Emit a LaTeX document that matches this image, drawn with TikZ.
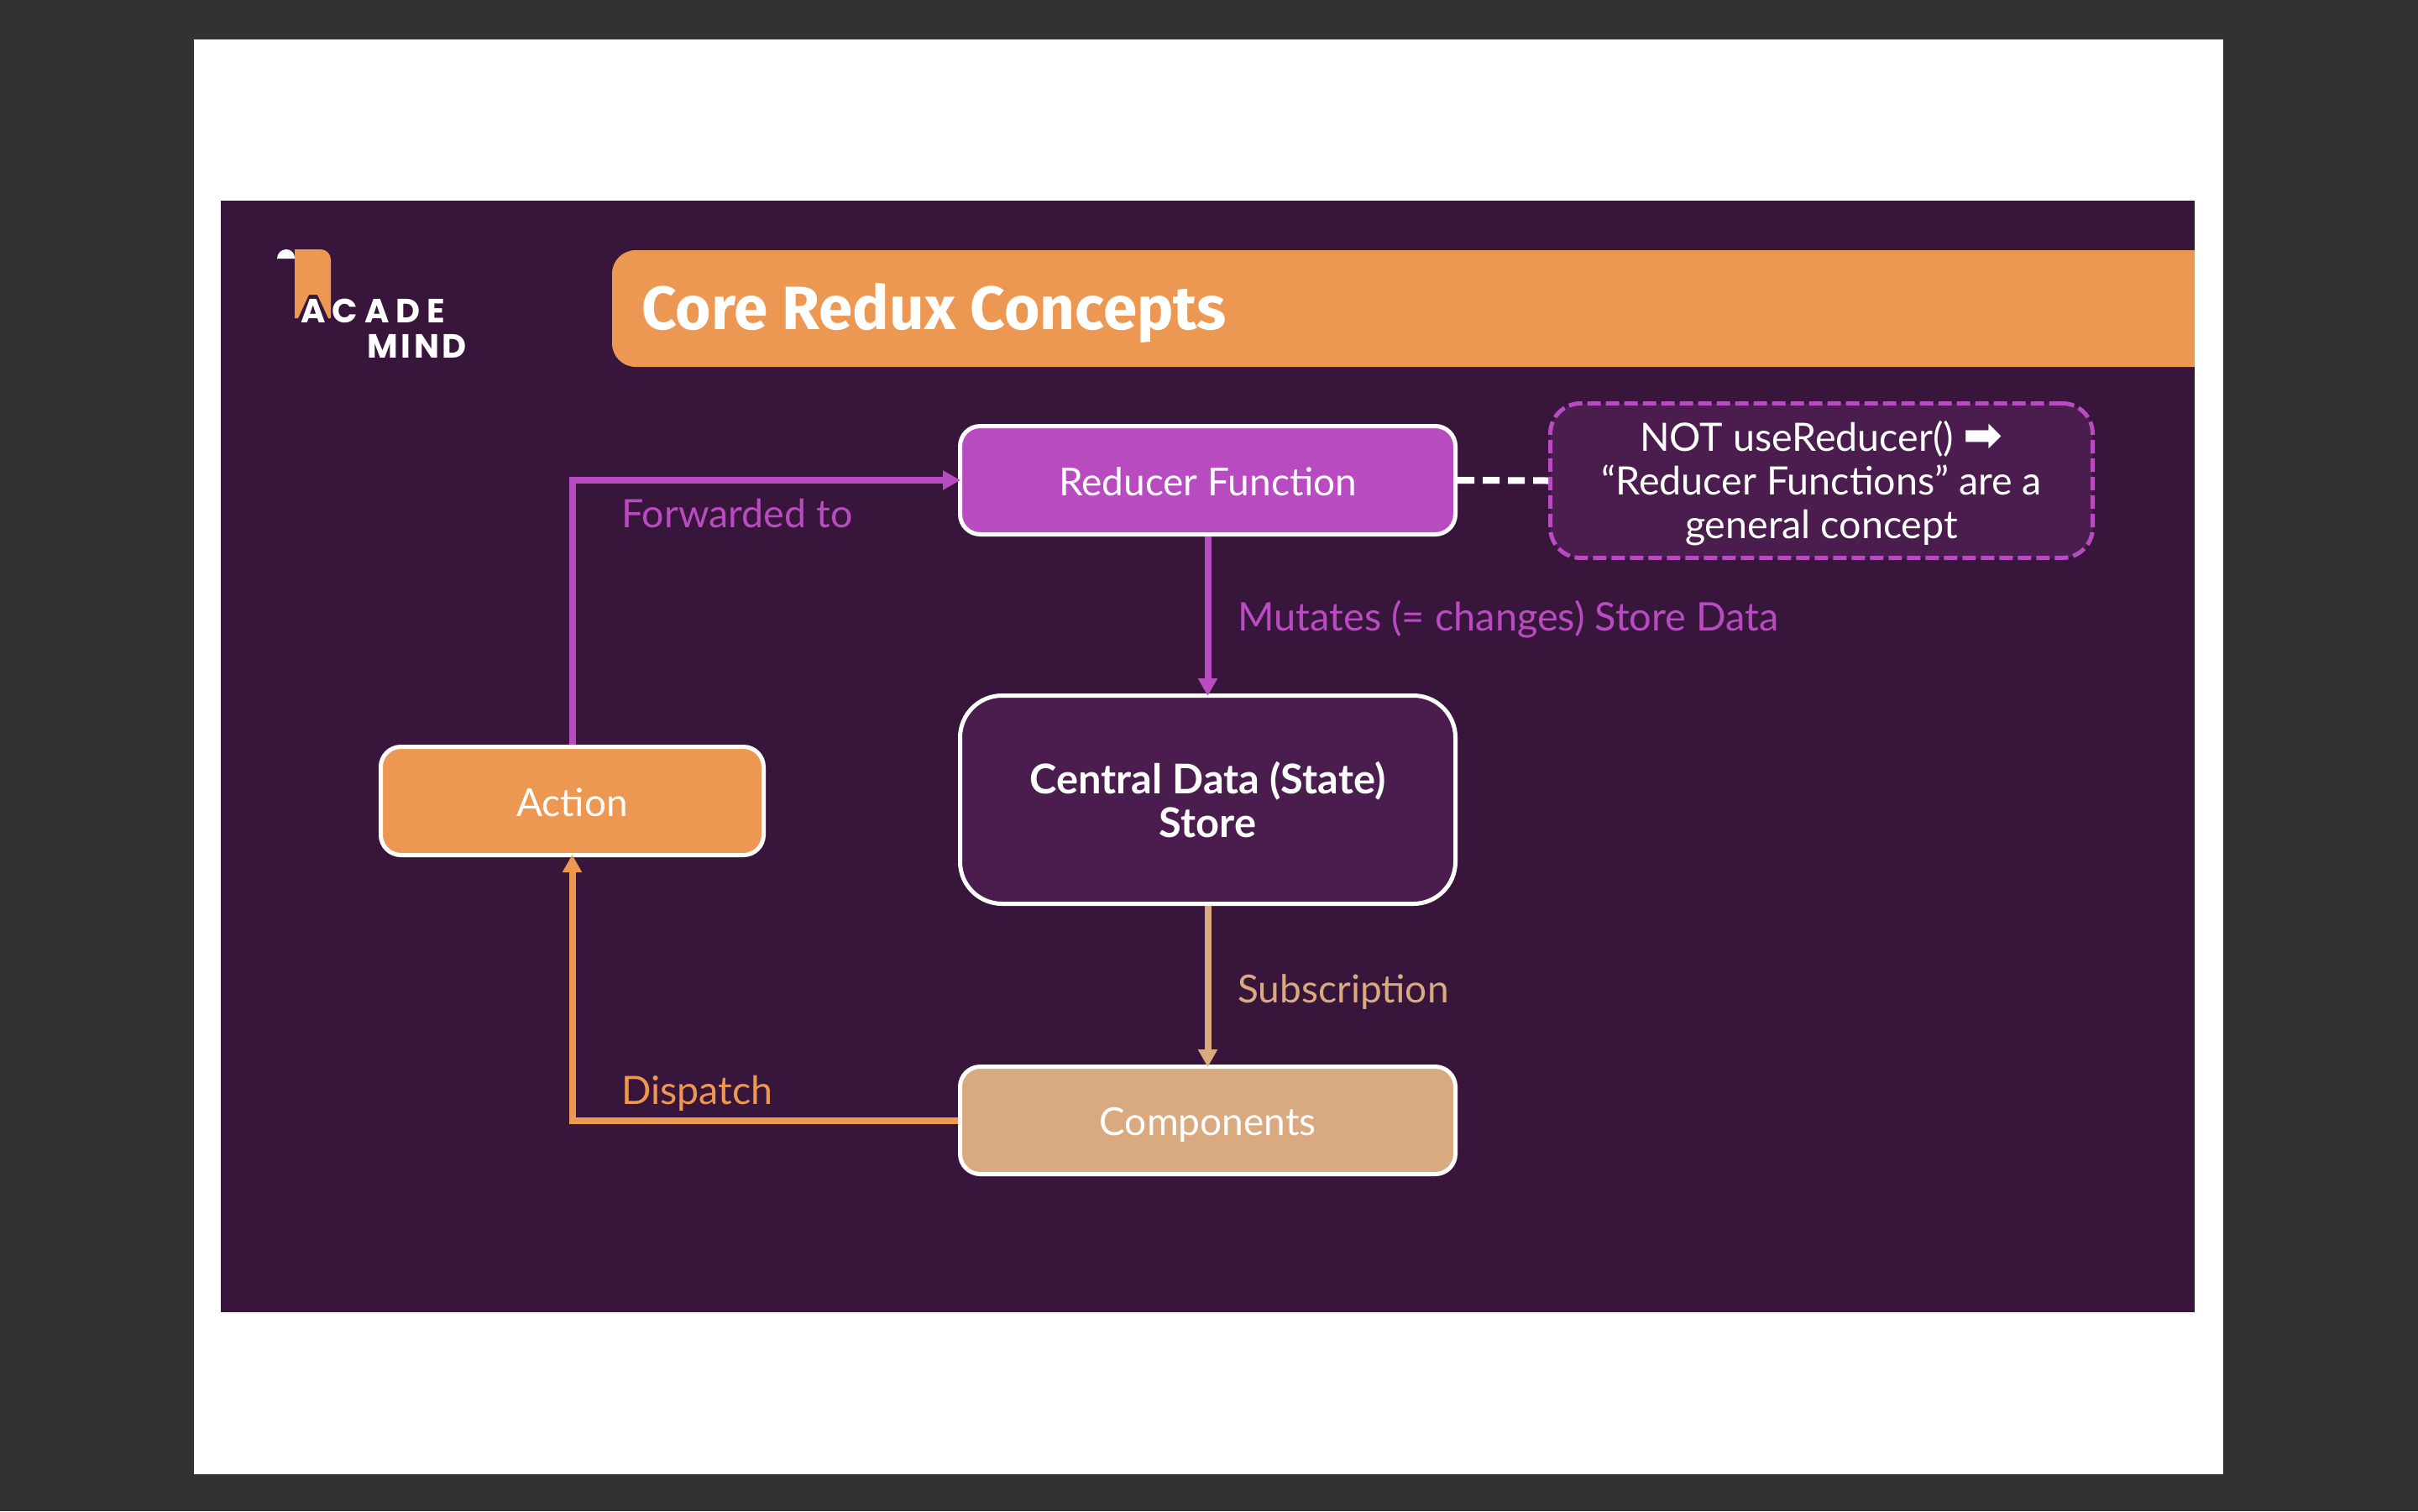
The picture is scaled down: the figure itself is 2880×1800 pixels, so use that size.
\documentclass[tikz,border=0pt]{standalone}
\usepackage{fontspec}
\usetikzlibrary{arrows.meta}
\setmainfont{Lato}
\newfontfamily\titlefont{Fira Sans}
\newfontfamily\logofont[LetterSpace=9]{Poppins}
\newfontfamily\logowidefont[LetterSpace=20]{Poppins}
\newfontfamily\arrowfont{DejaVu Sans}
\definecolor{outer}{HTML}{323232}
\definecolor{slide}{HTML}{38153A}
\definecolor{panel}{HTML}{4A1D4E}
\definecolor{orangeA}{HTML}{EC9752}
\definecolor{purpleA}{HTML}{B94BC1}
\definecolor{tanA}{HTML}{D9A97F}
\tikzset{
  px/.style={x=0.5pt,y=-0.5pt},
  box/.style={draw=white,line width=2.5pt,text=white,align=center,inner sep=0pt,font=\fontsize{23}{28}\selectfont},
  onebox/.style={box,text height=18pt,text depth=0pt},
  lab/.style={anchor=base west,inner sep=0pt,font=\fontsize{23.3}{28}\selectfont},
  conn/.style={line width=4pt,-{Triangle[length=10.5pt,width=11pt]},shorten >=-1.5pt},
}
\begin{document}
\begin{tikzpicture}[px]
\useasboundingbox (0,0) rectangle (2880,1800);
\fill[outer] (0,0) rectangle (2880,1800);
\fill[white] (231,47) rectangle (2648,1756);
\fill[slide] (263,239) rectangle (2614,1563);
% title bar
\fill[orangeA] (2614,298) -- (757,298) arc[start angle=90,end angle=180,radius=14pt] -- (729,409) arc[start angle=180,end angle=270,radius=14pt] -- (2614,437) -- cycle;
\node[anchor=base west,inner sep=0pt,text=white,font=\titlefont\bfseries\fontsize{36.4}{40}\selectfont] (title) at (764,392) {Core Redux Concepts};
% logo
\fill[orangeA] (351,297) -- (382,297) arc[start angle=90,end angle=0,radius=6pt] -- (394,379) -- (391,379) -- (378,351) -- (368,351) -- (355,379) -- (351,379) -- cycle;
\fill[white] (330,308) arc[start angle=180,end angle=90,radius=5.5pt] -- (341,297) arc[start angle=90,end angle=0,radius=5pt] -- (351,308) -- cycle;
\node[anchor=base west,inner sep=0pt,text=white,font=\logowidefont\bfseries\fontsize{20}{24}\selectfont] (logoA) at (358,384) {ACADE};
\node[anchor=base west,inner sep=0pt,text=white,font=\logofont\bfseries\fontsize{20}{24}\selectfont] (logoB) at (437,426) {MIND};
% boxes
\node[onebox,fill=purpleA,rounded corners=12pt,minimum width=295pt,minimum height=64.5pt] (reducer) at (1438.5,572) {Reducer Function};
\node[box,fill=panel,rounded corners=25pt,minimum width=295pt,minimum height=124pt,text depth=-3pt,font=\bfseries\fontsize{24.4}{26}\selectfont] (store) at (1438.5,952.5) {Central Data (State)\\Store};
\node[onebox,fill=tanA,rounded corners=12pt,minimum width=295pt,minimum height=64pt] (comp) at (1438.5,1334.5) {Components};
\node[onebox,fill=orangeA,rounded corners=12pt,minimum width=228pt,minimum height=64.5pt] (action) at (681.5,954) {Action};
\node[box,draw=purpleA,fill=panel,dash pattern=on 8pt off 3pt,rounded corners=18pt,minimum width=323pt,minimum height=92pt,text depth=1pt,font=\fontsize{23.3}{26}\selectfont] (note) at (2169.5,572.5) {NOT useReducer() \raisebox{0pt}[0pt][0pt]{\arrowfont\bfseries\fontsize{28}{26}\selectfont ➡}\\“Reducer Functions” are a\\general concept};
% connectors
\coordinate (fwdcorner) at (681.5,572);
\coordinate (dispcorner) at (681.5,1334.5);
\draw[conn,purpleA] (action.north) -- (fwdcorner) -- (reducer.west);
\draw[conn,purpleA] (reducer.south) -- (store.north);
\draw[conn,tanA] (store.south) -- (comp.north);
\draw[conn,orangeA] (comp.west) -- (dispcorner) -- (action.south);
\draw[white,line width=4pt,dash pattern=on 10pt off 5pt] (reducer.east) -- (note.west);
% labels
\node[lab,text=purpleA] (l1) at (740,628) {Forwarded to};
\node[lab,text=purpleA,font=\fontsize{23.45}{28}\selectfont] (l2) at (1474,751) {Mutates (= changes) Store Data};
\node[lab,text=tanA,font=\fontsize{23}{28}\selectfont] (l3) at (1474,1194) {Subscription};
\node[lab,text=orangeA] (l4) at (740,1315) {Dispatch};
\end{tikzpicture}
\end{document}
